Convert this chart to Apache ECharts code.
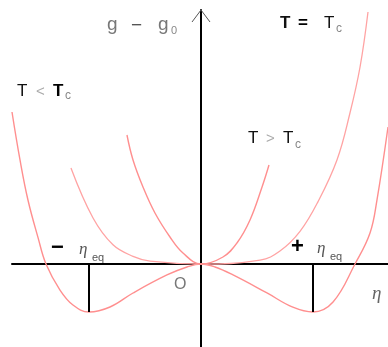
<!DOCTYPE html>
<html>
<head>
<meta charset="utf-8">
<script src="https://cdn.jsdelivr.net/npm/echarts@6/dist/echarts.min.js"></script>
<style>
  html, body { margin: 0; padding: 0; background: #fff; }
  #chart { width: 388px; height: 347px; }
</style>
</head>
<body>
<div id="chart"></div>
<script>
// Order parameter η (in units of η_eq) and free energy g − g0 (in units of the well depth)
const etaBelow = [-1.6875, -1.616, -1.545, -1.455, -1.384, -1.259, -1.143, -1.0, -0.8125, -0.607, -0.304, -0.125, 0,
                  0.125, 0.286, 0.589, 0.82, 1.0, 1.179, 1.375, 1.509, 1.571, 1.6696];
const gBelow   = [3.167, 2.167, 1.333, 0.55, 0.0, -0.542, -0.854, -1.0, -0.896, -0.604, -0.229, -0.0625, 0,
                  -0.0625, -0.229, -0.604, -0.9, -1.0, -0.792, 0.0, 0.646, 1.333, 2.854];

const etaAtTc = [-1.161, -0.964, -0.786, -0.607, -0.455, 0, 0.527, 0.705, 0.884, 1.045, 1.214, 1.330, 1.420, 1.491];
const gAtTc   = [2.0, 0.958, 0.40, 0.16, 0.06, 0, 0.08, 0.27, 0.68, 1.3, 2.167, 3.146, 4.104, 5.25];

const etaAbove = [-0.661, -0.607, -0.518, -0.411, -0.277, -0.161, 0, 0.196, 0.321, 0.4375, 0.545, 0.607];
const gAbove   = [2.6875, 2.167, 1.604, 1.0625, 0.5625, 0.229, 0, 0.146, 0.4375, 0.917, 1.604, 2.0625];

// Equilibrium order parameters ±η_eq and the well minimum
const etaEq = [-1, 1];
const gEq = [-1, -1];

const curveLabels = ['T < T', 'T = T', 'T > T'];

const zip = (xs, ys) => xs.map((x, i) => [x, ys[i]]);

const chart = echarts.init(document.getElementById('chart'), null, { renderer: 'canvas' });

const sans = '"Liberation Sans", Arial, sans-serif';
const serif = '"Liberation Serif", "DejaVu Serif", serif';

function txt(x, y, text, size, color, opts) {
  opts = opts || {};
  return {
    type: 'text', x: x, y: y, z: 10,
    style: {
      text: text,
      fill: color,
      font: (opts.italic ? 'italic ' : '') + (opts.bold ? 'bold ' : '') + size + 'px ' + (opts.family || sans),
      verticalAlign: 'middle',
      align: 'left'
    }
  };
}

const curveColor = '#ff8f8f';

function curve(name, xs, ys, color, width) {
  return {
    name: name, type: 'line', data: zip(xs, ys),
    smooth: 0.4, showSymbol: false, clip: false,
    lineStyle: { color: color, width: width }
  };
}

const option = {
  animation: false,
  grid: { left: 12, right: 0, top: 10, bottom: 0 },
  xAxis: {
    type: 'value', min: -1.6875, max: 1.6696,
    axisLine: { show: true, onZero: true, lineStyle: { color: '#000', width: 2 } },
    axisTick: { show: false }, axisLabel: { show: false }, splitLine: { show: false }
  },
  yAxis: {
    type: 'value', min: -1.7292, max: 5.2917,
    axisLine: { show: true, onZero: true, lineStyle: { color: '#000', width: 2 } },
    axisTick: { show: false }, axisLabel: { show: false }, splitLine: { show: false }
  },
  series: [
    curve(curveLabels[0], etaBelow, gBelow, curveColor, 1.4),
    curve(curveLabels[1], etaAtTc, gAtTc, '#ffa3a3', 1.3),
    curve(curveLabels[2], etaAbove, gAbove, curveColor, 1.4),
    // drop lines from each minimum to the η axis
    ...etaEq.map((e, i) => ({
      type: 'line', data: [[e, 0], [e, gEq[i]]], showSymbol: false, z: 3,
      lineStyle: { color: '#000', width: 2 }
    }))
  ],
  graphic: [
    // open arrow head on the g axis
    {
      type: 'polyline', z: 10,
      shape: { points: [[192, 22], [201, 10], [210, 22]] },
      style: { stroke: '#555', lineWidth: 1, fill: null }
    },
    // g − g0
    txt(107, 25, 'g', 19, '#777'),
    txt(131, 26, '−', 19, '#555'),
    txt(158, 25, 'g', 19, '#777'),
    txt(171, 31, '0', 11, '#888'),
    // T = Tc
    txt(280, 23, 'T', 17, '#111', { bold: true }),
    txt(298, 23, '=', 17, '#000', { bold: true }),
    txt(324, 23, 'T', 17, '#111'),
    txt(336, 29, 'c', 12, '#888'),
    // T < Tc
    txt(17, 91, 'T', 17, '#111'),
    txt(36, 92, '<', 15, '#aaa'),
    txt(53, 91, 'T', 17, '#000', { bold: true }),
    txt(65, 96, 'c', 12, '#888'),
    // T > Tc
    txt(248, 138, 'T', 17, '#111'),
    txt(266, 139, '>', 15, '#aaa'),
    txt(283, 138, 'T', 17, '#111'),
    txt(295, 145, 'c', 12, '#888'),
    // −η_eq
    txt(51, 248, '−', 22, '#000', { bold: true }),
    txt(79, 250, 'η', 17, '#555', { italic: true, family: serif }),
    txt(92, 258, 'eq', 11, '#555'),
    // +η_eq
    txt(291, 247, '+', 22, '#000', { bold: true }),
    txt(317, 249, 'η', 17, '#555', { italic: true, family: serif }),
    txt(330, 257, 'eq', 11, '#555'),
    // origin and η axis name
    txt(174, 285, 'O', 16, '#777'),
    txt(372, 294, 'η', 19, '#666', { italic: true, family: serif })
  ]
};

chart.setOption(option);
</script>
</body>
</html>
